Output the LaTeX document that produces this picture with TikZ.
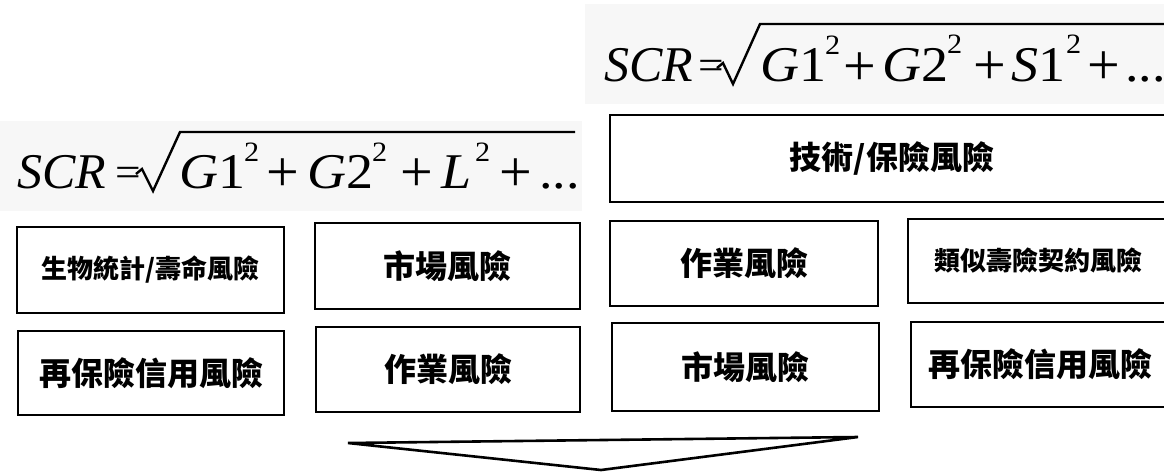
\documentclass[tikz,border=0pt]{standalone}
\usepackage{fontspec}
\setmainfont{Liberation Serif}
\newfontfamily\formfont[FakeStretch=1.08]{Liberation Serif}
\newfontfamily\cjk{Noto Sans CJK TC}
\begin{document}
\begin{tikzpicture}[x=1pt,y=-1pt,
  riskbox/.style={draw, line width=2.6pt, inner sep=0pt, font=\cjk\bfseries\fontsize{32}{32}\selectfont},
  smalltext/.style={font=\cjk\bfseries\fontsize{26}{26}\selectfont},
  ftxt/.style={inner sep=0pt, anchor=base west, font=\formfont\fontsize{50}{50}\selectfont},
  fscr/.style={inner sep=0pt, anchor=base west, font=\fontsize{50}{50}\selectfont\itshape},
  feq/.style={inner sep=0pt, anchor=base west, font=\formfont\fontsize{42}{42}\selectfont},
  fsup/.style={inner sep=0pt, anchor=base west, font=\formfont\fontsize{28}{28}\selectfont},
  fplus/.style={inner sep=0pt, anchor=center, font=\fontsize{58}{58}\selectfont},
  radical/.style={line width=2.4pt, line join=miter},
  noise/.style={fill=black!3, draw=none}]
\useasboundingbox (0,0) rectangle (1164,472);
\clip (0,0) rectangle (1164,472);

% faint screened background behind the formulas
\fill[noise] (0,121) rectangle (582,211);
\fill[noise] (585,4) rectangle (1164,104);

% ---------- left formula ----------
\node[fscr] (lscr) at (17,188) {SCR};
\node[feq] (leq) at (115,186) {=};
\coordinate (lr1) at (136,174);
\coordinate (lr2) at (142,169);
\coordinate (lr3) at (153,191);
\coordinate (lr4) at (180,132);
\coordinate (lr5) at (575,132);
\draw[radical] (lr1) -- (lr2) -- (lr3) -- (lr4) -- (lr5);
\node[ftxt] (lg1) at (179,188) {\itshape G\upshape 1};
\node[fsup] (ls1) at (244,161) {2};
\node[fplus] (lp1) at (283,175) {+};
\node[ftxt] (lg2) at (307,188) {\itshape G\upshape 2};
\node[fsup] (ls2) at (372,161) {2};
\node[fplus] (lp2) at (417,175) {+};
\node[ftxt] (ll) at (441,188) {\itshape L};
\node[fsup] (ls3) at (475,161) {2};
\node[fplus] (lp3) at (516,175) {+};
\node[ftxt] (ldots) at (539,188) {...};

% ---------- right formula ----------
\node[fscr] (rscr) at (604,81) {SCR};
\node[feq] (req) at (698,79) {=};
\coordinate (rr1) at (717,68);
\coordinate (rr2) at (723,63);
\coordinate (rr3) at (733,84);
\coordinate (rr4) at (760,24);
\coordinate (rr5) at (1164,24);
\draw[radical] (rr1) -- (rr2) -- (rr3) -- (rr4) -- (rr5);
\node[ftxt] (rg1) at (760,81) {\itshape G\upshape 1};
\node[fsup] (rs1) at (825,54) {2};
\node[fplus] (rp1) at (860,69) {+};
\node[ftxt] (rg2) at (882,81) {\itshape G\upshape 2};
\node[fsup] (rs2) at (947,53) {2};
\node[fplus] (rp2) at (990,68) {+};
\node[ftxt] (rs) at (1011,81) {\itshape S\upshape 1};
\node[fsup] (rs3) at (1066,53) {2};
\node[fplus] (rp3) at (1104,68) {+};
\node[ftxt] (rdots) at (1125,81) {...};

% ---------- left boxes ----------
\node[riskbox, smalltext, minimum width=267pt, minimum height=86pt] (b1) at (150.5,270) {生物統計/壽命風險};
\node[riskbox, minimum width=265pt, minimum height=86pt] (b2) at (447.5,266) {市場風險};
\node[riskbox, minimum width=266pt, minimum height=84pt] (b3) at (151,373) {再保險信用風險};
\node[riskbox, minimum width=264pt, minimum height=85pt] (b4) at (448,369.5) {作業風險};

% ---------- right boxes ----------
\node[riskbox, minimum width=560pt, minimum height=87pt] (rt) at (890,158.5) {};
\node[font=\cjk\bfseries\fontsize{32}{32}\selectfont, inner sep=0pt] (rtt) at (892,158.5) {技術/保險風險};
\node[riskbox, minimum width=268pt, minimum height=85pt] (r1) at (744,263.5) {作業風險};
\node[riskbox, smalltext, minimum width=260pt, minimum height=84pt] (r2) at (1038,261) {類似壽險契約風險};
\node[riskbox, minimum width=267pt, minimum height=88pt] (r3) at (745.5,367) {市場風險};
\node[riskbox, minimum width=258pt, minimum height=85pt] (r4) at (1040,364.5) {再保險信用風險};

% ---------- downward arrow ----------
\coordinate (a1) at (348,443);
\coordinate (a2) at (858,437);
\coordinate (a3) at (601,470);
\draw[line width=2.6pt, line join=miter] (a1) -- (a2) -- (a3) -- cycle;
\end{tikzpicture}
\end{document}
